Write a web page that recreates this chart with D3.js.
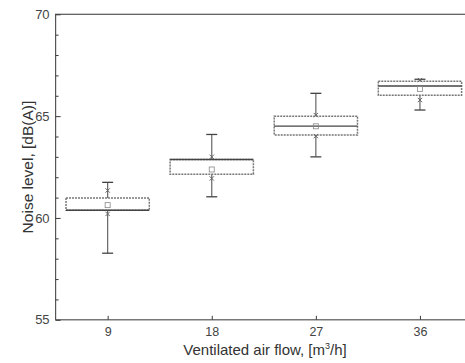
<!DOCTYPE html>
<html><head><meta charset="utf-8">
<script src="https://cdn.jsdelivr.net/npm/d3@7/dist/d3.min.js"></script>
<style>html,body{margin:0;padding:0;background:#fff;}svg{display:block;}</style>
</head><body>
<svg id="c" width="465" height="363"></svg>
<script>
const categories = [9, 18, 27, 36];
const whiskerHigh = [61.75, 64.10, 66.12, 66.81];
const pctHigh = [61.35, 63.00, 65.05, 66.77];
const q3 = [60.98, 62.87, 65.00, 66.71];
const median = [60.38, 62.87, 64.51, 66.48];
const mean = [60.63, 62.38, 64.50, 66.33];
const q1 = [60.38, 62.15, 64.07, 66.03];
const pctLow = [60.20, 61.94, 64.02, 65.79];
const whiskerLow = [58.27, 61.04, 63.00, 65.30];
const yTicks = [55, 60, 65, 70];
const xTicks = [9, 18, 27, 36];

const svg = d3.select("#c");
const x = d3.scaleLinear().domain([4.5, 40.5]).range([55.6, 472]);
const y = d3.scaleLinear().domain([55, 70]).range([319.8, 14.3]);
const font = "Liberation Sans, Arial, sans-serif";
const col = "#3a3a3a";

svg.append("rect").attr("x", x(4.5)).attr("y", y(70)).attr("width", x(40.5) - x(4.5)).attr("height", y(55) - y(70))
  .attr("fill", "none").attr("stroke", "#555").attr("stroke-width", 1.2);

const yAxis = d3.axisLeft(y).tickValues(yTicks).tickSize(-5).tickPadding(6).tickFormat(d3.format("d"));
const ga = svg.append("g").attr("transform", `translate(${x(4.5)},0)`).call(yAxis);
ga.select(".domain").remove();
ga.selectAll("line").attr("stroke", col);
ga.selectAll("text").attr("font-family", font).attr("font-size", 13).attr("fill", "#444");
const yMinor = d3.range(55, 71, 1).filter(v => !yTicks.includes(v));
const gm = svg.append("g").attr("transform", `translate(${x(4.5)},0)`).call(d3.axisLeft(y).tickValues(yMinor).tickSize(-3).tickFormat(""));
gm.select(".domain").remove();
gm.selectAll("line").attr("stroke", col);

const xAxis = d3.axisBottom(x).tickValues(xTicks).tickSize(-4).tickPadding(7).tickFormat(d3.format("d"));
const gx = svg.append("g").attr("transform", `translate(0,${y(55)})`).call(xAxis);
gx.select(".domain").remove();
gx.selectAll("line").attr("stroke", col);
gx.selectAll("text").attr("font-family", font).attr("font-size", 12.5).attr("fill", "#444");

svg.append("text").attr("transform", `translate(27,${(y(55)+y(70))/2}) rotate(-90)`).attr("text-anchor", "middle")
  .attr("dominant-baseline", "central").attr("font-family", font).attr("font-size", 15.5).attr("fill", "#333")
  .text("Noise level, [dB(A)]");
const xt = svg.append("text").attr("x", 265).attr("y", 355).attr("text-anchor", "middle")
  .attr("font-family", font).attr("font-size", 15).attr("fill", "#333");
xt.append("tspan").text("Ventilated air flow, [m");
xt.append("tspan").attr("dy", -6).attr("font-size", 9).text("3");
xt.append("tspan").attr("dy", 6).text("/h]");

const data = categories.map((c, i) => ({c, wh: whiskerHigh[i], ph: pctHigh[i], q3: q3[i], med: median[i], mean: mean[i], q1: q1[i], pl: pctLow[i], wl: whiskerLow[i]}));
const bw = 7.2;
const capW = 5.5;
const g = svg.append("g");
data.forEach(d => {
  const cx = x(d.c);
  const left = x(d.c - bw / 2), right = x(d.c + bw / 2);
  g.append("line").attr("x1", cx).attr("x2", cx).attr("y1", y(d.wh)).attr("y2", y(d.q3)).attr("stroke", "#666").attr("stroke-width", 1.2);
  g.append("line").attr("x1", cx).attr("x2", cx).attr("y1", y(d.q1)).attr("y2", y(d.wl)).attr("stroke", "#666").attr("stroke-width", 1.2);
  [d.wh, d.wl].forEach(v => g.append("line").attr("x1", cx - capW).attr("x2", cx + capW).attr("y1", y(v)).attr("y2", y(v)).attr("stroke", "#444").attr("stroke-width", 1.3));
  g.append("rect").attr("x", left).attr("y", y(d.q3)).attr("width", right - left).attr("height", y(d.q1) - y(d.q3))
    .attr("fill", "none").attr("stroke", "#777").attr("stroke-width", 1.5).attr("stroke-dasharray", "2,1");
  g.append("line").attr("x1", left).attr("x2", right).attr("y1", y(d.med)).attr("y2", y(d.med)).attr("stroke", "#444").attr("stroke-width", 1.3);
  g.append("rect").attr("x", cx - 2.5).attr("y", y(d.mean) - 2.5).attr("width", 5).attr("height", 5)
    .attr("fill", "none").attr("stroke", "#888").attr("stroke-width", 0.8);
  [d.ph, d.pl].forEach(v => g.append("path").attr("d", d3.symbol(d3.symbolX, 14)()).attr("transform", `translate(${cx},${y(v)})`)
    .attr("fill", "none").attr("stroke", "#666").attr("stroke-width", 1));
});
</script>
</body></html>
